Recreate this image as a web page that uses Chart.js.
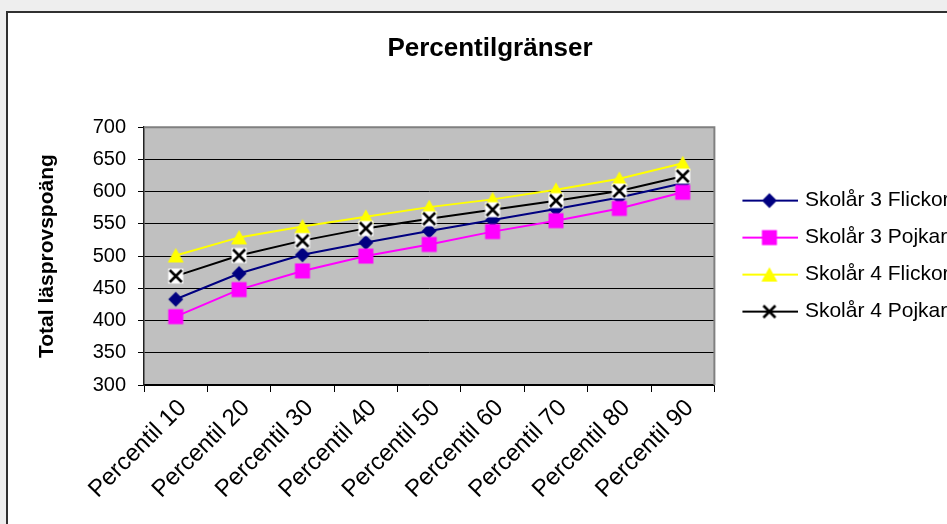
<!DOCTYPE html>
<html><head><meta charset="utf-8">
<script src="https://cdn.jsdelivr.net/npm/chart.js@4.4.1/dist/chart.umd.min.js"></script>
<style>
html,body{margin:0;padding:0;background:#eeeeee;overflow:hidden;width:947px;height:524px;}
#frame{position:absolute;left:6px;top:11px;width:1100px;height:600px;border:2px solid #303030;background:#ffffff;overflow:hidden;}
#c{position:absolute;left:0;top:0;}
</style></head><body>
<div id="frame"><canvas id="c"></canvas></div>
<script>
// ---- data ----
const categories = ['Percentil 10','Percentil 20','Percentil 30','Percentil 40','Percentil 50','Percentil 60','Percentil 70','Percentil 80','Percentil 90'];
const seriesNames = ['Skolår 3 Flickor','Skolår 3 Pojkar','Skolår 4 Flickor','Skolår 4 Pojkar'];
const skolar3Flickor = [433, 473, 502, 521, 539, 556, 573, 591, 613];
const skolar3Pojkar  = [406, 448, 477, 500, 518, 538, 555, 574, 599];
const skolar4Flickor = [501, 529, 546, 561, 576, 588, 603, 620, 644];
const skolar4Pojkar  = [469, 501, 524, 543, 558, 572, 586, 601, 624];
const yMin = 300, yMax = 700, yStep = 50;

// ---- style / layout ----
const FF = "'Liberation Sans', Arial, sans-serif";
const LEG_FS = 21, TICK_FS = 20, XLAB_FS = 24;
const LEG_PAD = 16, LEG_BOX = 64;
const AREA_LEFT = 136, AREA_RIGHT = 705, AREA_BOTTOM = 372, CANVAS_W = 1000, CANVAS_H = 560, TITLE_CENTER = 482, YTITLE_CENTER = 39;

Chart.defaults.font.family = FF;
Chart.defaults.color = '#000';

function mkCanvas(w,h){const c=document.createElement('canvas');c.width=w;c.height=h;return c;}
function drawMarker(ctx, kind, x, y, color){
  ctx.save();
  ctx.fillStyle=color; ctx.strokeStyle=color;
  if(kind==='diamond'){ctx.beginPath();ctx.moveTo(x,y-7.5);ctx.lineTo(x+7.5,y);ctx.lineTo(x,y+7.5);ctx.lineTo(x-7.5,y);ctx.closePath();ctx.fill();}
  else if(kind==='square'){ctx.fillRect(x-7.5,y-7.5,15,15);}
  else if(kind==='triangle'){ctx.beginPath();ctx.moveTo(x,y-7.5);ctx.lineTo(x+8,y+7);ctx.lineTo(x-8,y+7);ctx.closePath();ctx.fill();}
  else if(kind==='x'){ctx.lineWidth=2.6;ctx.beginPath();ctx.moveTo(x-6,y-6);ctx.lineTo(x+6,y+6);ctx.moveTo(x+6,y-6);ctx.lineTo(x-6,y+6);ctx.stroke();}
  ctx.restore();
}
const colors = ['#000080','#ff00ff','#ffff00','#000000'];
const kinds = ['diamond','square','triangle','x'];
// point images
const pointImgs = kinds.map((k,i)=>{
  const c=mkCanvas(18,18), g=c.getContext('2d');
  if(k==='x'){g.fillStyle='#fff';g.fillRect(1.5,1.5,15,15);}
  drawMarker(g,k,9,9,colors[i]);
  return c;
});
// legend images: line + marker
const LEG_IMG_W = LEG_BOX + 8;
const legendImgs = colors.map((col,i)=>{
  const c=mkCanvas(LEG_IMG_W,20), g=c.getContext('2d');
  g.strokeStyle=col; g.lineWidth=2; g.beginPath(); g.moveTo(16,10); g.lineTo(LEG_IMG_W,10); g.stroke();
  drawMarker(g,kinds[i],43,10,col);
  return c;
});

const cv = document.getElementById('c');
cv.width = CANVAS_W; cv.height = CANVAS_H; cv.style.width = CANVAS_W+'px'; cv.style.height = CANVAS_H+'px';

// first estimate of legend width from text measure
const mctx = mkCanvas(10,10).getContext('2d');
mctx.font = LEG_FS + 'px ' + FF;
const T = Math.max(...seriesNames.map(s=>mctx.measureText(s).width));
const legendW = LEG_PAD + LEG_BOX + LEG_FS/2 + T + 10;
let L = Math.max(0, 2*TITLE_CENTER - AREA_RIGHT - legendW);
let R = Math.max(0, CANVAS_W - AREA_RIGHT - legendW);

const plotBg = {
  id:'plotBg',
  afterLayout(chart){ if(chart.legend){ chart.legend.right = chart.width; } },
  beforeDraw(chart){const {ctx,chartArea:a}=chart;ctx.save();ctx.fillStyle='#c0c0c0';ctx.fillRect(a.left,a.top,a.width,a.height);ctx.restore();},
  beforeDatasetsDraw(chart){const {ctx,chartArea:a}=chart;ctx.save();ctx.strokeStyle='#808080';ctx.lineWidth=2;ctx.beginPath();
    ctx.moveTo(a.left,a.top);ctx.lineTo(a.right,a.top);ctx.lineTo(a.right,a.bottom);ctx.stroke();ctx.restore();}
};

function ds(label, data, i){
  return {label, data, borderColor:colors[i], backgroundColor:colors[i], borderWidth:2,
    pointStyle:pointImgs[i], pointRadius:8, pointHoverRadius:8, order:4-i, tension:0};
}

const chart = new Chart(cv, {
  type:'line',
  data:{labels:categories, datasets:[
    ds(seriesNames[0], skolar3Flickor, 0),
    ds(seriesNames[1], skolar3Pojkar, 1),
    ds(seriesNames[2], skolar4Flickor, 2),
    ds(seriesNames[3], skolar4Pojkar, 3)
  ]},
  options:{
    responsive:false, animation:false, devicePixelRatio:1,
    layout:{padding:{left:L,right:R,top:0,bottom:0}},
    plugins:{
      title:{display:true,text:'Percentilgränser',color:'#000',font:{size:26,weight:'bold',family:FF},padding:{top:20,bottom:63}},
      legend:{position:'right',align:'center',fullSize:false,
        labels:{usePointStyle:true,pointStyleWidth:LEG_BOX,boxHeight:LEG_FS,padding:LEG_PAD,color:'#000',font:{size:LEG_FS,family:FF},
          sort:(a,b)=>a.datasetIndex-b.datasetIndex,
          generateLabels(chart){const items=Chart.defaults.plugins.legend.labels.generateLabels(chart);
            items.forEach(it=>{it.pointStyle=legendImgs[it.datasetIndex];it.lineWidth=0;});return items;}}},
      tooltip:{enabled:false}
    },
    scales:{
      x:{type:'category',offset:true,
        grid:{offset:true,drawOnChartArea:false,drawTicks:true,tickLength:7,color:'#000'},
        border:{color:'#000',width:1.5},
        ticks:{autoSkip:false,maxRotation:45,minRotation:45,labelOffset:7,color:'#000',font:{size:XLAB_FS,family:FF},padding:2},
        afterFit(s){s.height=CANVAS_H-AREA_BOTTOM;}},
      y:{min:yMin,max:yMax,
        ticks:{stepSize:yStep,color:'#000',font:{size:TICK_FS,family:FF},padding:12},
        grid:{color:'#000',lineWidth:1,tickLength:6},
        border:{color:'#222',width:1.5},
        title:{display:true,text:'Total läsprovspoäng',color:'#000',font:{size:21,weight:'bold',family:FF},padding:{top:YTITLE_CENTER-12.6-L,bottom:0}},
        afterFit(s){s.width=AREA_LEFT-s.chart.options.layout.padding.left;}}
    }
  },
  plugins:[plotBg]
});
// refine: move the plot's right edge onto the target while keeping the title centre
for (let k=0;k<3;k++){
  const diff = chart.chartArea.right - AREA_RIGHT;
  if (Math.abs(diff) < 0.5) break;
  R += diff; L += diff;
  chart.options.layout.padding = {left:L,right:R,top:0,bottom:0};
  chart.options.scales.y.title.padding = {top:YTITLE_CENTER-12.6-L,bottom:0};
  chart.update();
}
</script>
</body></html>
